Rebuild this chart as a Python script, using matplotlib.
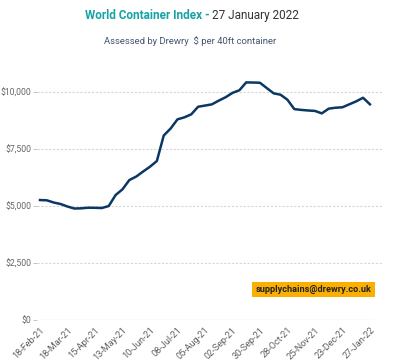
import matplotlib
matplotlib.use("Agg")
import matplotlib.pyplot as plt
import numpy as np

plt.rcParams['font.family'] = ['Roboto', 'DejaVu Sans']

tick_labels = ["18-Feb-21", "18-Mar-21", "15-Apr-21", "13-May-21", "10-Jun-21",
               "08-Jul-21", "05-Aug-21", "02-Sep-21", "30-Sep-21", "28-Oct-21",
               "25-Nov-21", "23-Dec-21", "27-Jan-22"]

wci = [5256, 5243, 5147, 5081, 4971, 4884, 4893, 4919, 4915, 4906,
       4993, 5475, 5725, 6132, 6285, 6505, 6715, 6965, 8082, 8388,
       8791, 8879, 9010, 9343, 9395, 9448, 9610, 9760, 9950, 10065,
       10410, 10405, 10394, 10160, 9930, 9870, 9650, 9240, 9205, 9180,
       9160, 9053, 9260, 9300, 9320, 9450, 9580, 9737, 9450]

yticks = [0, 2500, 5000, 7500, 10000]
ytick_labels = ["$0", "$2,500", "$5,000", "$7,500", "$10,000"]

fig = plt.figure(figsize=(4.0, 3.63), dpi=100)
ax = fig.add_axes([0.0925, 0.1185, 0.865, 0.679])

x = np.arange(len(wci))
ax.plot(x, wci, color="#0b3764", lw=1.8, solid_joinstyle='round', zorder=3)

ax.set_xlim(-0.436, 49.9)
ax.set_ylim(0, 10800)

for s in ax.spines.values():
    s.set_visible(False)

for yv in yticks[1:]:
    ax.axhline(yv, color="#d6d6d6", lw=0.8, ls=(0, (2, 1.5)), zorder=1)
ax.axhline(0, xmin=0, xmax=(48.44 + 0.436) / (49.9 + 0.436), color="#d8d8d8", lw=0.9, zorder=1)

ax.set_yticks(yticks)
ax.set_yticklabels(ytick_labels)
ax.tick_params(axis='y', length=3, width=0.6, color="#bbbbbb", labelsize=6.2, labelcolor="#666666", pad=1)

ax.set_xticks(np.arange(0, len(wci), 4))
ax.set_xticklabels(tick_labels, rotation=45, ha='right', rotation_mode='anchor')
ax.tick_params(axis='x', length=0, labelsize=6.6, labelcolor="#5e5e5e", pad=4)

t1 = fig.text(0.212, 0.948, "World Container Index - ", color="#16a3a6",
              fontsize=8.5, fontweight='bold', ha='left', va='baseline')
fig.add_artist(matplotlib.text.Annotation(
    "27 January 2022", xy=(1, 0), xycoords=t1, va='bottom', ha='left',
    color="#333333", fontsize=8.5))

fig.text(0.475, 0.878, "Assessed by Drewry  $ per 40ft container", color="#44556e",
         fontsize=6.8, ha='center', va='baseline')

fig.text(0.784, 0.203, "supplychains@drewry.co.uk", color="#222222", fontsize=6.6,
         fontweight='bold', ha='center', va='center',
         bbox=dict(boxstyle='square,pad=0.35', fc="#fbaf00", ec='none'))

fig.savefig("out.png", dpi=100, facecolor='white')
